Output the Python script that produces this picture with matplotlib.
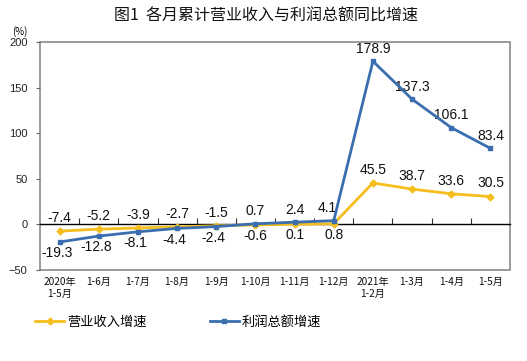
import matplotlib
matplotlib.use("Agg")
import matplotlib.pyplot as plt
from matplotlib.patches import Rectangle
from matplotlib.transforms import blended_transform_factory

plt.rcParams['font.family'] = ['Noto Sans CJK SC', 'DejaVu Sans']

# 数据
categories = ["2020年\n1-5月", "1-6月", "1-7月", "1-8月", "1-9月", "1-10月",
              "1-11月", "1-12月", "2021年\n1-2月", "1-3月", "1-4月", "1-5月"]
revenue = [-7.4, -5.2, -3.9, -2.7, -1.5, -0.6, 0.1, 0.8, 45.5, 38.7, 33.6, 30.5]
profit = [-19.3, -12.8, -8.1, -4.4, -2.4, 0.7, 2.4, 4.1, 178.9, 137.3, 106.1, 83.4]
y_ticks = [-50, 0, 50, 100, 150, 200]

yellow = "#F5BE1E"
blue = "#3A6EAE"

fig = plt.figure(figsize=(5.27, 3.61), dpi=100)
ax = fig.add_axes([40 / 527, 91 / 361, 470 / 527, 228 / 361])

x = list(range(len(categories)))
ax.plot(x, revenue, color=yellow, lw=2.0, marker="D", ms=3.5, zorder=3, label="营业收入增速")
ax.plot(x, profit, color=blue, lw=2.0, marker="s", ms=3.5, zorder=4, label="利润总额增速")

ax.set_xlim(-0.5, len(categories) - 0.5)
ax.set_ylim(-50, 200)

# 数据标签: 前面几个月营业收入在上, 之后利润在上
lab_font = dict(family="Liberation Sans", fontsize=10, color="#111111", ha="center", va="center")
for i in x:
    rev_up = revenue[i] >= profit[i] or i >= 8
    pro_up = profit[i] > revenue[i]
    dx = -5 if i == 7 else 0
    ax.annotate(f"{revenue[i]}", (i, revenue[i]), xytext=(0, 9.5 if rev_up else -8),
                textcoords="offset points", **lab_font)
    ax.annotate(f"{profit[i]}", (i, profit[i]), xytext=(dx if pro_up else -2, 9 if pro_up else -8),
                textcoords="offset points", **lab_font)

# 坐标轴样式
for s in ["top", "right", "left"]:
    ax.spines[s].set_visible(False)
ax.spines["bottom"].set_position(("data", 0))
ax.spines["bottom"].set_color("black")
ax.spines["bottom"].set_linewidth(1.0)
ax.add_patch(Rectangle((0, 0), 1, 1, transform=ax.transAxes, fill=False,
                       edgecolor="#8a8a8a", lw=1.2, clip_on=False, zorder=1))

ax.set_xticks([i + 0.5 for i in x[:-1]])
ax.set_xticklabels([])
ax.tick_params(axis="x", direction="in", length=4, width=0.8, color="#333333")
ax.set_yticks(y_ticks)
ax.tick_params(axis="y", direction="out", length=3, width=0.8, color="#666666",
               labelsize=8, labelcolor="#222222", pad=6)
for lbl in ax.get_yticklabels():
    lbl.set_family("Liberation Sans")

trans = blended_transform_factory(ax.transData, ax.transAxes)
for i, c in enumerate(categories):
    ax.text(i, -0.03, c, transform=trans, ha="center", va="top", fontsize=7.3,
            linespacing=1.3, color="#111111")

fig.text(20 / 527, 1 - 32 / 361, "(%)", fontsize=7, ha="center", va="center")
fig.text(266 / 527, 1 - 16 / 361, "图1  各月累计营业收入与利润总额同比增速",
         fontsize=11.5, ha="center", va="center", color="#111111")

fig.legend(loc="center", bbox_to_anchor=(178 / 527, 1 - 322 / 361), ncol=2,
           frameon=False, fontsize=9.5, handlelength=2.2, handletextpad=0.2,
           columnspacing=4.8)

fig.savefig("out.png", dpi=100)
